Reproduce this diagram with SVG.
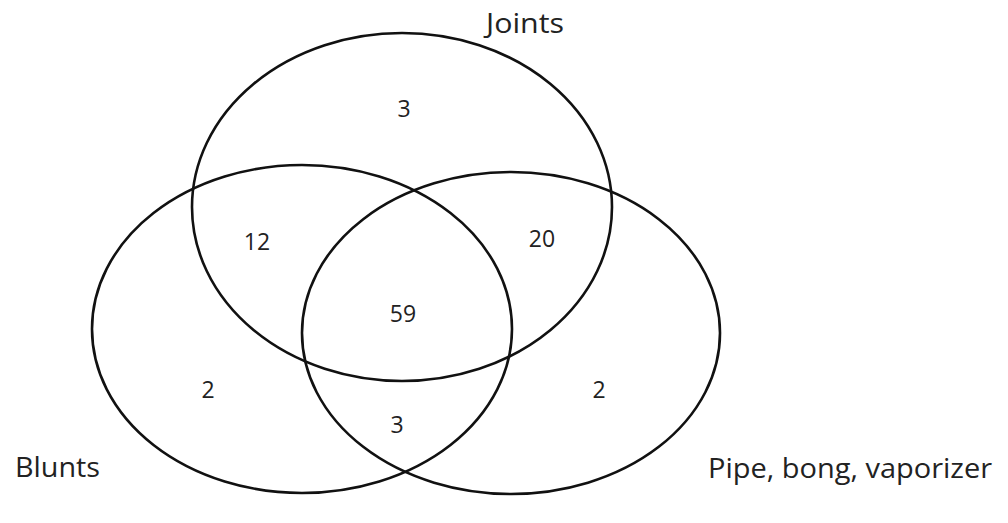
<svg xmlns="http://www.w3.org/2000/svg" width="1008" height="523" viewBox="0 0 1008 523">
<style>
.set{fill:none;stroke:#111;stroke-width:2.6}
.lbl{font-family:"Open Sans","Liberation Sans",sans-serif;font-size:27px;fill:#222}
.num{font-family:"Open Sans","Liberation Sans",sans-serif;font-size:23px;fill:#222;text-anchor:middle}
</style>
<rect width="1008" height="523" fill="#fff"/>
<g id="joints">
<ellipse class="set" cx="402" cy="207" rx="210" ry="174"/>
<text class="lbl" x="486" y="33" textLength="78" lengthAdjust="spacingAndGlyphs">Joints</text>
</g>
<g id="blunts">
<ellipse class="set" cx="302" cy="329" rx="210" ry="164"/>
<text class="lbl" x="15" y="477" textLength="85" lengthAdjust="spacingAndGlyphs">Blunts</text>
</g>
<g id="pipe">
<ellipse class="set" cx="511" cy="333" rx="209" ry="161"/>
<text class="lbl" x="708" y="478" textLength="284" lengthAdjust="spacingAndGlyphs">Pipe, bong, vaporizer</text>
</g>
<g id="counts">
<text class="num" x="404" y="117">3</text>
<text class="num" x="257" y="250">12</text>
<text class="num" x="542" y="247">20</text>
<text class="num" x="403" y="322">59</text>
<text class="num" x="208" y="398">2</text>
<text class="num" x="599" y="398">2</text>
<text class="num" x="397" y="433">3</text>
</g>
</svg>
